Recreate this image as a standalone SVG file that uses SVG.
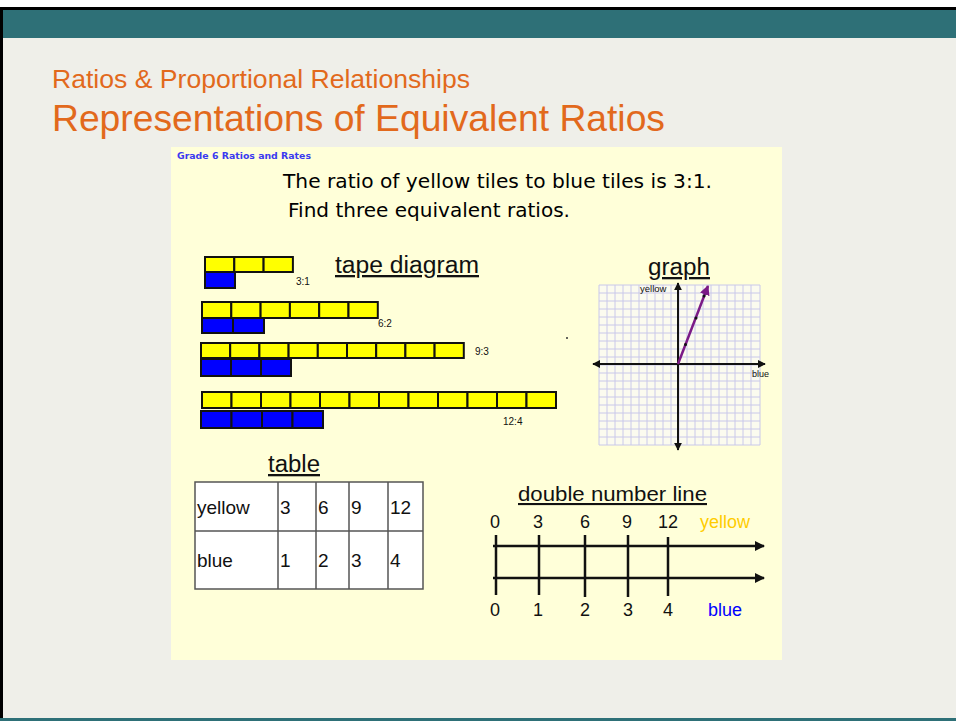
<svg xmlns="http://www.w3.org/2000/svg" width="956" height="721" viewBox="0 0 956 721">
<defs>
<style>
.ttl{font-family:"Liberation Sans",Arial,sans-serif;fill:#e2691c}
.cm{font-family:"DejaVu Sans","Liberation Sans",sans-serif}
.ar{font-family:"Liberation Sans",Arial,sans-serif;fill:#111}
.y{fill:#ffff00;stroke:#111;stroke-width:2}
.b{fill:#0000ff;stroke:#111;stroke-width:2}
.grid{stroke:#c9c8ea;stroke-width:1}
.ax{stroke:#111;stroke-width:2;fill:none}
.nl{stroke:#111;stroke-width:2.5;fill:none}
.tb{stroke:#555;stroke-width:1.5;fill:none}
</style>
<marker id="ah" viewBox="0 0 10 10" refX="9" refY="5" markerWidth="4" markerHeight="4" orient="auto-start-reverse"><path d="M0,0 L10,5 L0,10 Z" fill="#111"/></marker>
<marker id="ahp" viewBox="0 0 10 10" refX="9" refY="5" markerWidth="4" markerHeight="4" orient="auto"><path d="M0,0 L10,5 L0,10 Z" fill="#7b1a86"/></marker>
</defs>
<rect width="956" height="721" fill="#efefe9"/>
<rect x="0" y="0" width="956" height="7" fill="#ffffff"/>
<rect x="0" y="7" width="956" height="3" fill="#000"/>
<rect x="0" y="10" width="956" height="28" fill="#2e7077"/>
<rect x="0" y="7" width="3" height="714" fill="#000"/>
<rect x="0" y="718" width="956" height="3" fill="#2e7077"/>
<g id="title">
<text class="ttl" x="52" y="88" font-size="25" textLength="418" lengthAdjust="spacingAndGlyphs">Ratios &amp; Proportional Relationships</text>
<text class="ttl" x="52" y="131" font-size="37" textLength="613" lengthAdjust="spacingAndGlyphs">Representations of Equivalent Ratios</text>
</g>
<rect x="171" y="147" width="611" height="513" fill="#ffffd9"/>
<g id="header">
<text class="cm" x="177" y="159" font-size="9.5" font-weight="bold" fill="#3a3af0" textLength="134" lengthAdjust="spacingAndGlyphs">Grade 6 Ratios and Rates</text>
<text class="cm" x="283" y="188" font-size="19" fill="#000" textLength="429" lengthAdjust="spacingAndGlyphs">The ratio of yellow tiles to blue tiles is 3:1.</text>
<text class="cm" x="288" y="217" font-size="19" fill="#000" textLength="282" lengthAdjust="spacingAndGlyphs">Find three equivalent ratios.</text>
</g>
<g id="tape-diagram">
<text class="ar" x="335" y="273" font-size="23" text-decoration="underline" textLength="144" lengthAdjust="spacingAndGlyphs">tape diagram</text>
<g id="tape-3-1">
<rect class="y" x="205" y="257" width="29.3" height="15"/><rect class="y" x="234.3" y="257" width="29.3" height="15"/><rect class="y" x="263.6" y="257" width="29.3" height="15"/>
<rect class="b" x="205" y="272" width="30" height="16"/>
<text class="ar" x="296" y="285" font-size="10">3:1</text>
</g>
<g id="tape-6-2">
<rect class="y" x="202" y="302" width="29.3" height="16"/><rect class="y" x="231.3" y="302" width="29.3" height="16"/><rect class="y" x="260.6" y="302" width="29.3" height="16"/><rect class="y" x="289.9" y="302" width="29.3" height="16"/><rect class="y" x="319.2" y="302" width="29.3" height="16"/><rect class="y" x="348.5" y="302" width="29.3" height="16"/>
<rect class="b" x="202" y="318" width="31" height="15"/><rect class="b" x="233" y="318" width="31" height="15"/>
<text class="ar" x="378" y="327" font-size="10">6:2</text>
</g>
<g id="tape-9-3">
<rect class="y" x="201" y="343" width="29.2" height="15"/><rect class="y" x="230.2" y="343" width="29.2" height="15"/><rect class="y" x="259.4" y="343" width="29.2" height="15"/><rect class="y" x="288.6" y="343" width="29.2" height="15"/><rect class="y" x="317.8" y="343" width="29.2" height="15"/><rect class="y" x="347" y="343" width="29.2" height="15"/><rect class="y" x="376.2" y="343" width="29.2" height="15"/><rect class="y" x="405.4" y="343" width="29.2" height="15"/><rect class="y" x="434.6" y="343" width="29.2" height="15"/>
<rect class="b" x="201" y="359" width="30" height="17"/><rect class="b" x="231" y="359" width="30" height="17"/><rect class="b" x="261" y="359" width="30" height="17"/>
<text class="ar" x="475" y="355" font-size="10">9:3</text>
</g>
<g id="tape-12-4">
<rect class="y" x="202" y="392" width="29.5" height="16"/><rect class="y" x="231.5" y="392" width="29.5" height="16"/><rect class="y" x="261" y="392" width="29.5" height="16"/><rect class="y" x="290.5" y="392" width="29.5" height="16"/><rect class="y" x="320" y="392" width="29.5" height="16"/><rect class="y" x="349.5" y="392" width="29.5" height="16"/><rect class="y" x="379" y="392" width="29.5" height="16"/><rect class="y" x="408.5" y="392" width="29.5" height="16"/><rect class="y" x="438" y="392" width="29.5" height="16"/><rect class="y" x="467.5" y="392" width="29.5" height="16"/><rect class="y" x="497" y="392" width="29.5" height="16"/><rect class="y" x="526.5" y="392" width="29.5" height="16"/>
<rect class="b" x="201" y="411" width="30.5" height="17"/><rect class="b" x="231.5" y="411" width="30.5" height="17"/><rect class="b" x="262" y="411" width="30.5" height="17"/><rect class="b" x="292.5" y="411" width="30.5" height="17"/>
<text class="ar" x="503" y="425" font-size="10">12:4</text>
</g>
</g>
<g id="graph">
<text class="ar" x="648" y="275" font-size="23" text-decoration="underline" textLength="62" lengthAdjust="spacingAndGlyphs">graph</text>
<rect x="599" y="285" width="161" height="160" fill="#fbfbef"/>
<path class="grid" d="M599,285V445M607,285V445M615,285V445M623,285V445M631,285V445M639,285V445M647,285V445M655,285V445M663,285V445M671,285V445M679,285V445M687,285V445M695,285V445M703,285V445M711,285V445M719,285V445M727,285V445M735,285V445M743,285V445M751,285V445M760,285V445M599,285H760M599,293H760M599,301H760M599,309H760M599,317H760M599,325H760M599,333H760M599,341H760M599,349H760M599,357H760M599,365H760M599,373H760M599,381H760M599,389H760M599,397H760M599,405H760M599,413H760M599,421H760M599,429H760M599,437H760M599,445H760"/>
<line class="ax" x1="678" y1="450" x2="678" y2="283" marker-start="url(#ah)" marker-end="url(#ah)"/>
<line class="ax" x1="593" y1="364" x2="765" y2="364" marker-start="url(#ah)" marker-end="url(#ah)"/>
<line x1="678" y1="364" x2="708" y2="286" stroke="#7b1a86" stroke-width="2.5" marker-end="url(#ahp)"/>
<circle cx="685.5" cy="344.5" r="1.5" fill="#111"/><circle cx="696" cy="318" r="1.5" fill="#111"/><circle cx="704" cy="296" r="1.5" fill="#111"/>
<text class="ar" x="640" y="292" font-size="9.5">yellow</text>
<text class="ar" x="752" y="377" font-size="9">blue</text>
<circle cx="567" cy="338" r="1" fill="#333"/>
</g>
<g id="table">
<text class="ar" x="268" y="472" font-size="23" text-decoration="underline" textLength="52" lengthAdjust="spacingAndGlyphs">table</text>
<rect x="195" y="482" width="228" height="107" fill="#ffffff"/>
<path class="tb" d="M195,482H423V589H195Z M195,531H423 M278,482V589 M316,482V589 M349,482V589 M388,482V589"/>
<g class="ar" font-size="19">
<text x="197" y="514">yellow</text>
<text x="280" y="514">3</text>
<text x="318" y="514">6</text>
<text x="351" y="514">9</text>
<text x="390" y="514">12</text>
<text x="197" y="567">blue</text>
<text x="280" y="567">1</text>
<text x="318" y="567">2</text>
<text x="351" y="567">3</text>
<text x="390" y="567">4</text>
</g>
</g>
<g id="double-number-line">
<text class="ar" x="518" y="501" font-size="21" text-decoration="underline" textLength="189" lengthAdjust="spacingAndGlyphs">double number line</text>
<g class="ar" font-size="18" text-anchor="middle">
<text x="495" y="528">0</text><text x="538" y="528">3</text><text x="585" y="528">6</text><text x="627" y="528">9</text><text x="668" y="528">12</text>
<text x="495" y="616">0</text><text x="538" y="616">1</text><text x="585" y="616">2</text><text x="628" y="616">3</text><text x="668" y="616">4</text>
</g>
<text x="700" y="528" font-family="Liberation Sans,Arial,sans-serif" font-size="18" fill="#ffcc00">yellow</text>
<text x="708" y="616" font-family="Liberation Sans,Arial,sans-serif" font-size="18" fill="#0000ff">blue</text>
<line class="nl" x1="493" y1="546" x2="764" y2="546" marker-end="url(#ah)"/>
<line class="nl" x1="493" y1="578" x2="764" y2="578" marker-end="url(#ah)"/>
<path class="nl" d="M496,535V595M539,535V595M585,535V597M628,535V597M668,537V596"/>
</g>
</svg>
